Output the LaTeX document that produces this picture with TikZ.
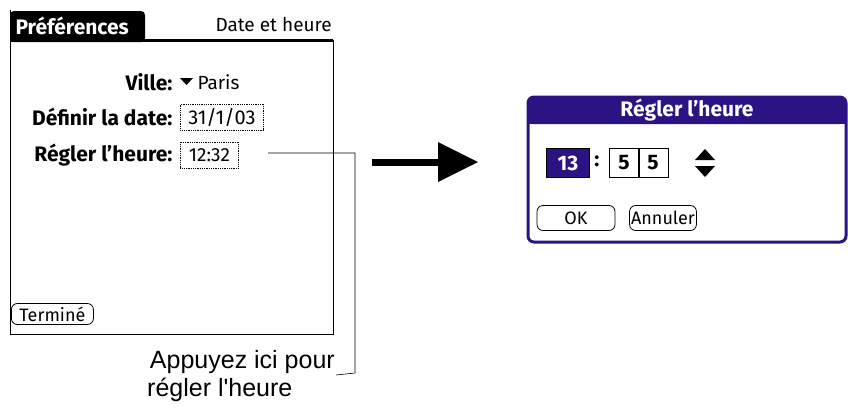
\documentclass[tikz,border=0pt]{standalone}
\usepackage{fontspec}
\setmainfont{Fira Sans}
\newfontfamily\callfont{Liberation Sans}
\usetikzlibrary{calc}
\definecolor{palmblue}{HTML}{2B1384}
\tikzset{
  fieldbox/.style={draw, densely dotted, thick, inner sep=2pt, minimum height=26pt},
  palmbtn/.style={draw, thick, rounded corners=6pt, inner sep=1.5pt, font=\fontsize{18}{18}\selectfont},
  lbl/.style={font=\bfseries\fontsize{21}{21}\selectfont, anchor=east},
}
\begin{document}
\begin{tikzpicture}[x=1pt,y=-1pt]
            \path[use as bounding box] (0,0) rectangle (848,410);
            % left screen
            \draw[thick] (10,10) -- (10,334) -- (333,334) -- (333,40);
            \draw[line width=3pt] (10,40) -- (333,40);
            \fill[rounded corners=4pt] (10,42) -- (10,11) -- (145,11) -- (145,42) -- cycle;
            \node[text=white, font=\bfseries\fontsize{21}{21}\selectfont, anchor=west] (tab) at (12,26) {Préférences};
            \node[font=\fontsize{19}{19}\selectfont, anchor=east, inner sep=1pt] (titre) at (333,25) {Date et heure};
            \node[lbl] (ville) at (176,82) {Ville:};
            \fill (180,78) -- (193,78) -- (186.5,85) -- cycle;
            \node[font=\fontsize{19}{19}\selectfont, anchor=west] (paris) at (194,82) {Paris};
            \node[lbl] (ldate) at (176,117) {Définir la date:};
            \node[fieldbox, anchor=west, minimum width=83pt] (date) at (180,117) {\fontsize{20}{20}\selectfont 31/1/03};
            \node[lbl] (lheure) at (176,155) {Régler l\char"27 heure:};
            \node[fieldbox, anchor=west, minimum width=58pt] (heure) at (180,155) {\fontsize{19}{19}\selectfont 12:32};
            \node[palmbtn, anchor=west, minimum width=82pt, minimum height=21pt] (termine) at (11,314) {Terminé};
            % callout
            \coordinate (c1) at (355,153);
            \coordinate (c2) at (355,373);
            \node[font=\callfont\fontsize{25}{25}\selectfont, anchor=south east, inner sep=1pt] (appuyez) at (336,375) {Appuyez ici pour};
            \node[font=\callfont\fontsize{25}{25}\selectfont, anchor=north west, inner sep=1pt] (regler) at (146,377) {régler l\char"27 heure};
            \draw[semithick] (268,153) -- (c1) -- (c2) -- (appuyez.south east);
            % arrow
            \coordinate (a1) at (372,162);
            \coordinate (a2) at (478,162);
            \draw[line width=7pt] (a1) -- (440,162);
            \fill (438,142) -- (a2) -- (438,182) -- cycle;
            % dialog
            \draw[palmblue, line width=3pt, rounded corners=6pt, fill=white] (528,97) rectangle (846,242);
            \fill[palmblue, rounded corners=6pt] (528,97) rectangle (846,124);
            \fill[palmblue] (528,115) rectangle (846,124);
            \node[text=white, font=\bfseries\fontsize{21}{21}\selectfont] (dtitre) at (687,110) {Régler l\char"27 heure};
            \node[fill=palmblue, draw=black, text=white, minimum width=43pt, minimum height=29pt, font=\bfseries\fontsize{21}{21}\selectfont] (h) at (568,163) {13};
            \node[font=\bfseries\fontsize{21}{21}\selectfont] (colon) at (597,161) {:};
            \node[draw, thick, minimum width=30pt, minimum height=29pt, font=\bfseries\fontsize{21}{21}\selectfont] (m1) at (624,163) {5};
            \node[draw, thick, minimum width=30pt, minimum height=29pt, font=\bfseries\fontsize{21}{21}\selectfont] (m2) at (653,163) {5};
            \fill (695,160) -- (715,160) -- (705,149) -- cycle;
            \fill (695,166) -- (715,166) -- (705,177) -- cycle;
            \node[palmbtn, minimum width=78pt, minimum height=25pt] (ok) at (576,218) {OK};
            \node[palmbtn, minimum height=25pt] (annuler) at (663,218) {Annuler};
        \end{tikzpicture}
\end{document}
